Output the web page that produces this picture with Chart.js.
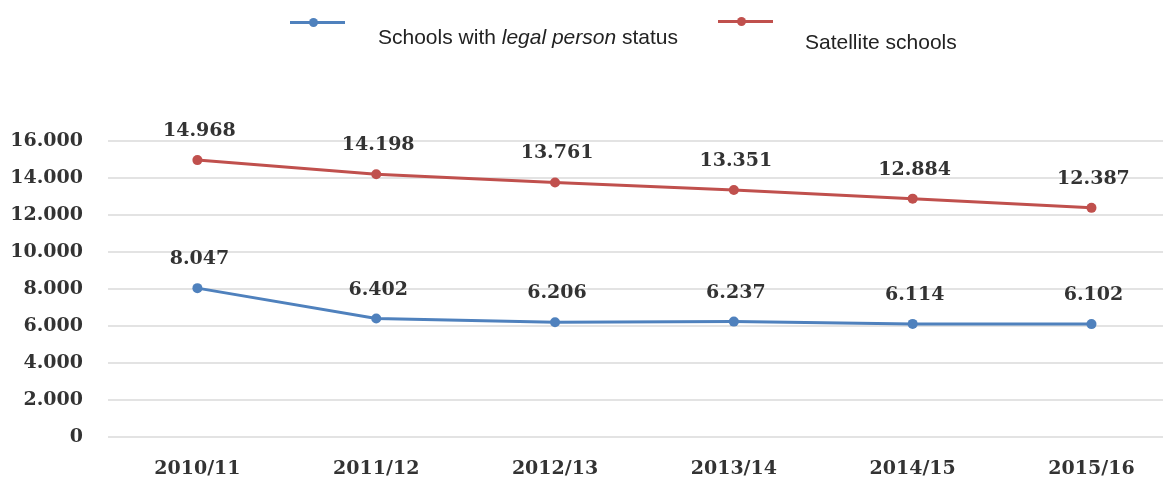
<!DOCTYPE html>
<html>
<head>
<meta charset="utf-8">
<script src="https://cdn.jsdelivr.net/npm/chart.js@4.4.0/dist/chart.umd.min.js"></script>
<style>
  html, body { margin: 0; padding: 0; background: #fff; }
  #wrap { position: relative; width: 1168px; height: 483px; }
  #chart { position: absolute; left: 0; top: 0; }
  .lg-line { position: absolute; height: 3px; }
  .lg-dot { position: absolute; width: 9px; height: 9px; border-radius: 50%; }
  .lg-text { position: absolute; font-family: "Liberation Sans", Arial, sans-serif; font-size: 21px; color: #222; white-space: nowrap; }
</style>
</head>
<body>
<div id="wrap">
  <canvas id="chart" width="1168" height="483"></canvas>
  <div class="lg-line" style="left:290px; top:21px; width:55px; background:#4F81BD;"></div>
  <div class="lg-dot" style="left:309px; top:18px; background:#4F81BD;"></div>
  <div class="lg-text" style="left:378px; top:25px;">Schools with <i>legal person</i> status</div>
  <div class="lg-line" style="left:718px; top:20px; width:55px; background:#C0504D;"></div>
  <div class="lg-dot" style="left:737px; top:17px; background:#C0504D;"></div>
  <div class="lg-text" style="left:805px; top:30px;">Satellite schools</div>
</div>
<script>
const categories = ["2010/11", "2011/12", "2012/13", "2013/14", "2014/15", "2015/16"];
const legalPerson = [8047, 6402, 6206, 6237, 6114, 6102];
const satellite = [14968, 14198, 13761, 13351, 12884, 12387];
const yTicks = [0, 2000, 4000, 6000, 8000, 10000, 12000, 14000, 16000];

function fmt(v) { return String(v).replace(/\B(?=(\d{3})+(?!\d))/g, "."); }

const serifFont = { family: "'DejaVu Serif', 'Liberation Serif', serif", size: 19, weight: "bold" };

const labelPlugin = {
  id: "pointLabels",
  afterDatasetsDraw(chart) {
    const ctx = chart.ctx;
    ctx.save();
    ctx.font = "bold 19px 'DejaVu Serif', 'Liberation Serif', serif";
    ctx.fillStyle = "#333";
    ctx.textAlign = "center";
    ctx.textBaseline = "middle";
    chart.data.datasets.forEach((ds, i) => {
      const meta = chart.getDatasetMeta(i);
      meta.data.forEach((pt, j) => {
        ctx.fillText(fmt(ds.data[j].y), pt.x + 2, pt.y - 29);
      });
    });
    ctx.restore();
  }
};

new Chart(document.getElementById("chart"), {
  type: "line",
  data: {
    datasets: [
      {
        label: "Schools with legal person status",
        data: legalPerson.map((v, i) => ({ x: i, y: v })),
        borderColor: "#4F81BD",
        backgroundColor: "#4F81BD",
        borderWidth: 3,
        pointRadius: 5,
        pointBorderWidth: 0,
        tension: 0
      },
      {
        label: "Satellite schools",
        data: satellite.map((v, i) => ({ x: i, y: v })),
        borderColor: "#C0504D",
        backgroundColor: "#C0504D",
        borderWidth: 3,
        pointRadius: 5,
        pointBorderWidth: 0,
        tension: 0
      }
    ]
  },
  options: {
    responsive: false,
    animation: false,
    layout: { padding: { top: 141, left: 0, right: 0, bottom: 0 } },
    plugins: { legend: { display: false }, tooltip: { enabled: false } },
    scales: {
      x: {
        type: "linear",
        min: -0.5,
        max: 5.4,
        afterFit(s) { s.height = 46; },
        afterBuildTicks(s) { s.ticks = categories.map((c, i) => ({ value: i })); },
        grid: { display: false, drawTicks: false },
        border: { display: false },
        ticks: {
          padding: 21,
          autoSkip: false,
          maxRotation: 0,
          color: "#333",
          font: serifFont,
          callback: (v) => categories[v]
        }
      },
      y: {
        min: 0,
        max: 16000,
        afterFit(s) { s.width = 108; },
        afterBuildTicks(s) { s.ticks = yTicks.map(v => ({ value: v })); },
        grid: { color: "#e3e3e3", lineWidth: 2, drawTicks: false },
        border: { display: false },
        ticks: {
          padding: 25,
          color: "#333",
          font: serifFont,
          callback: (v) => fmt(v)
        }
      }
    }
  },
  plugins: [labelPlugin]
});
</script>
</body>
</html>
